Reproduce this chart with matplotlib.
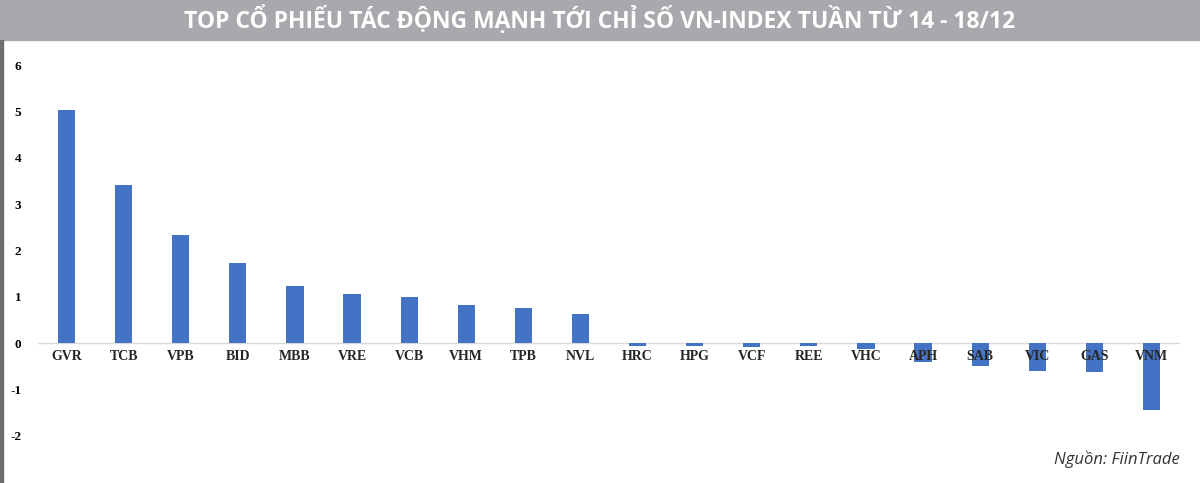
import matplotlib
matplotlib.use("Agg")
import matplotlib.pyplot as plt
from matplotlib.patches import Rectangle

categories = ["GVR","TCB","VPB","BID","MBB","VRE","VCB","VHM","TPB","NVL",
              "HRC","HPG","VCF","REE","VHC","APH","SAB","VIC","GAS","VNM"]
values = [5.03,3.41,2.33,1.73,1.23,1.06,0.99,0.82,0.76,0.63,
          -0.06,-0.06,-0.08,-0.07,-0.12,-0.41,-0.50,-0.60,-0.63,-1.43]
yticks = [-2,-1,0,1,2,3,4,5,6]
title = "TOP CỔ PHIẾU TÁC ĐỘNG MẠNH TỚI CHỈ SỐ VN-INDEX TUẦN TỪ 14 - 18/12"

W, H = 1200, 483
fig = plt.figure(figsize=(W/100, H/100), dpi=100)
fig.patches.append(Rectangle((0, 1-40/H), 1, 40/H, transform=fig.transFigure,
                             color="#a7a9ac", zorder=0))
fig.patches.append(Rectangle((0, 0), 3/W, 1-40/H, transform=fig.transFigure,
                             color="#6d6e71", zorder=0))
fig.text(0.5, 1-20/H, title, ha="center", va="center", color="white",
         fontsize=16.5, fontweight="bold", family="Open Sans")

ax = fig.add_axes([38/W, 1-436/H, (1180-38)/W, (436-65)/H])
x = list(range(len(categories)))
ax.bar(x, values, width=0.3, color="#4472c4", zorder=2)
ax.set_xlim(-0.5, len(categories)-0.5)
ax.set_ylim(-2, 6)
ax.axhline(0, color="#d9d9d9", lw=1, zorder=1)
for s in ax.spines.values():
    s.set_visible(False)
ax.set_xticks([])
ax.set_yticks(yticks)
ax.set_yticklabels([str(t) for t in yticks], family="Liberation Serif",
                   fontweight="bold", fontsize=9.5)
ax.tick_params(axis="y", length=0, pad=12)
for xi, c in zip(x, categories):
    ax.text(xi, -0.28, c, ha="center", va="center", family="Liberation Serif",
            fontweight="bold", fontsize=10, color="#262626", zorder=3)
fig.text(1180/W, 1-459/H, "Nguồn: FiinTrade", ha="right", va="center",
         style="italic", fontsize=12, family="Open Sans", color="#333333")
fig.savefig("out.png", dpi=100)
